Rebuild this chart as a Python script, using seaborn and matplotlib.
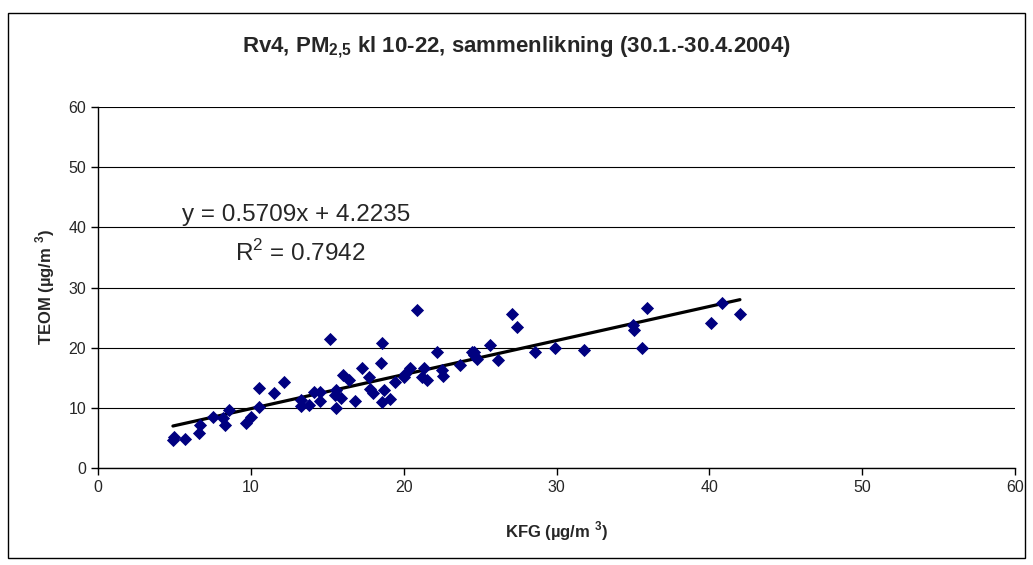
import numpy as np
import pandas as pd
import seaborn as sns
import matplotlib.pyplot as plt
from matplotlib.patches import Rectangle

# KFG vs TEOM, PM2.5 kl 10-22
kfg = [4.9, 5.0, 5.7, 6.6, 6.7, 7.5, 8.2, 8.3, 8.6, 9.7, 10.0, 10.5, 10.5, 11.5,
       12.2, 13.3, 13.3, 13.8, 14.1, 14.5, 14.5, 15.2, 15.5, 15.6, 15.6, 15.9,
       16.05, 16.4, 16.8, 17.3, 17.7, 17.8, 18.0, 18.5, 18.6, 18.6, 18.7, 19.1,
       19.4, 20.0, 20.1, 20.4, 20.9, 21.2, 21.3, 21.5, 22.2, 22.5, 22.6, 23.7,
       24.5, 24.6, 24.6, 24.8, 25.65, 26.2, 27.1, 27.4, 28.6, 29.9, 31.8, 35.0,
       35.1, 35.6, 35.9, 40.1, 40.8, 42.0]
teom = [4.65, 5.2, 4.9, 5.8, 7.1, 8.5, 8.3, 7.1, 9.7, 7.4, 8.5, 10.1, 13.3, 12.5,
        14.3, 10.3, 11.3, 10.5, 12.7, 12.7, 11.1, 21.5, 12.1, 13.0, 9.9, 11.7,
        15.5, 14.7, 11.2, 16.6, 15.2, 13.2, 12.4, 17.4, 20.7, 10.9, 13.0, 11.4,
        14.3, 15.2, 15.7, 16.6, 26.2, 15.2, 16.6, 14.6, 19.3, 16.3, 15.3, 17.1,
        19.3, 18.8, 19.3, 18.1, 20.4, 17.9, 25.6, 23.5, 19.3, 19.9, 19.6, 23.8,
        23.0, 19.9, 26.6, 24.1, 27.4, 25.6]

df = pd.DataFrame({'KFG': kfg, 'TEOM': teom})

sns.set_style('white')
plt.rcParams['font.family'] = ['Liberation Sans', 'DejaVu Sans']
plt.rcParams['mathtext.fontset'] = 'custom'
plt.rcParams['mathtext.rm'] = 'Liberation Sans'
plt.rcParams['mathtext.bf'] = 'Liberation Sans:bold'

fig = plt.figure(figsize=(10.33, 5.65), dpi=100)
ax = fig.add_axes([0.0949, 0.1717, 0.8877, 0.6389])

# outer chart border
fig.patches.append(Rectangle((0.008, 0.012), 0.984, 0.965, transform=fig.transFigure,
                             fill=False, edgecolor='black', linewidth=1))

sns.scatterplot(data=df, x='KFG', y='TEOM', marker='D', color='#000080',
                s=45, linewidth=0, ax=ax, zorder=3)
sns.regplot(data=df, x='KFG', y='TEOM', scatter=False, ci=None, truncate=True,
            line_kws={'color': 'black', 'linewidth': 2.3}, ax=ax)

ax.set_xlim(0, 60)
ax.set_ylim(0, 60)
ax.set_xticks(range(0, 61, 10))
ax.set_yticks(range(0, 61, 10))
ax.yaxis.grid(True, color='black', linewidth=0.8)
ax.set_axisbelow(True)
for s in ['top', 'right']:
    ax.spines[s].set_visible(False)
for s in ['left', 'bottom']:
    ax.spines[s].set_color('black')
    ax.spines[s].set_linewidth(1)
ax.tick_params(axis='both', direction='out', length=5, width=1, color='black',
               labelsize=11.5, left=True, bottom=True)

ax.set_xlabel(r'KFG (µg/m $^{\mathbf{3}}$)', fontsize=12, fontweight='bold', labelpad=18)
ax.set_ylabel(r'TEOM (µg/m $^{\mathbf{3}}$)', fontsize=12, fontweight='bold', labelpad=8)

fig.text(0.5, 0.917, r'Rv4, PM$_{\mathbf{2{,}5}}$ kl 10-22, sammenlikning (30.1.-30.4.2004)',
         ha='center', va='center', fontsize=16, fontweight='bold')

ax.text(12.96, 42.0, 'y = 0.5709x + 4.2235', fontsize=17.5, ha='center', va='center')
ax.text(13.2, 35.7, r'R$^2$ = 0.7942', fontsize=17.5, ha='center', va='center')

fig.savefig('out.png', dpi=100)
